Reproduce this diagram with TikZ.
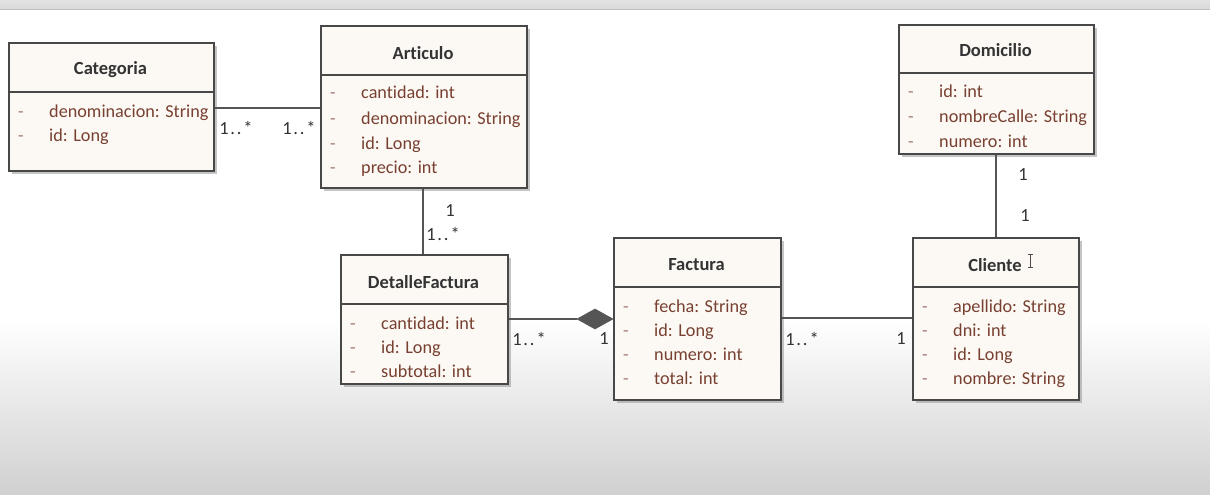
\documentclass[tikz,border=0pt]{standalone}
\usepackage{fontspec}
\setmainfont{Carlito}[Ligatures=NoCommon]
\usetikzlibrary{shadows}
\definecolor{boxfill}{RGB}{252,249,245}
\definecolor{boxdraw}{RGB}{72,72,72}
\definecolor{attrcol}{RGB}{120,64,48}
\definecolor{titlecol}{RGB}{51,51,51}
\definecolor{linecol}{RGB}{85,85,85}
\definecolor{bandcol}{RGB}{218,218,218}
\definecolor{bottomcol}{RGB}{208,208,208}
\tikzset{
  classbox/.style={draw=boxdraw, line width=2pt, fill=boxfill, inner sep=0pt, anchor=north west,
    drop shadow={shadow xshift=3pt, shadow yshift=-3pt, fill=black!45, opacity=.5}},
  sepline/.style={draw=boxdraw, line width=1.3pt},
  titletxt/.style={font=\fontsize{18.5}{22}\selectfont\bfseries, text=titlecol, inner sep=0pt},
  attrtxt/.style={font=\fontsize{18.2}{22}\selectfont, text=attrcol, inner sep=0pt, anchor=base west},
  dashtxt/.style={font=\fontsize{18.2}{22}\selectfont, text=attrcol!70, inner sep=0pt, anchor=base west},
  multtxt/.style={font=\fontsize{18.5}{22}\selectfont\addfontfeatures{LetterSpace=10}, text=titlecol, inner sep=0pt},
  assoc/.style={draw=linecol, line width=1.4pt},
  compo/.style={fill=linecol, draw=linecol, line width=0.5pt},
}
\newcommand\attrline[4]{%
  \node[dashtxt] (#1d) at (#2+10,#3+6) {-};
  \node[attrtxt] (#1) at (#2+41,#3+6) {#4};}
\begin{document}
\begin{tikzpicture}[x=1pt,y=-1pt]
\useasboundingbox (0,0) rectangle (1210,495);
% background
\fill[white] (0,0) rectangle (1210,495);
\fill[top color=white, bottom color=bottomcol] (0,320) rectangle (1210,495);
\fill[top color=bandcol!80, bottom color=bandcol] (0,0) rectangle (1210,9);
\draw[black!25, line width=0.8pt] (0,9) -- (1210,9);

% Categoria
\node[classbox, minimum width=205pt, minimum height=128pt] (cat) at (8,42) {};
\draw[sepline] (cat.west |- 0,92) -- (cat.east |- 0,92);
\node[titletxt] (catt) at (110.5,70) {Categoria};
\attrline{cata}{8}{111}{denominacion: String}
\attrline{catb}{8}{135}{id: Long}

% Articulo
\node[classbox, minimum width=206pt, minimum height=162pt] (art) at (320,25) {};
\draw[sepline] (art.west |- 0,75) -- (art.east |- 0,75);
\node[titletxt] (artt) at (423,53) {Articulo};
\attrline{arta}{320}{93}{cantidad: int}
\attrline{artb}{320}{118}{denominacion: String}
\attrline{artc}{320}{143}{id: Long}
\attrline{artd}{320}{167}{precio: int}

% Domicilio
\node[classbox, minimum width=195pt, minimum height=129pt] (dom) at (898,24) {};
\draw[sepline] (dom.west |- 0,73) -- (dom.east |- 0,73);
\node[titletxt] (domt) at (995.5,50) {Domicilio};
\attrline{doma}{898}{91}{id: int}
\attrline{domb}{898}{116}{nombreCalle: String}
\attrline{domc}{898}{141}{numero: int}

% DetalleFactura
\node[classbox, minimum width=167pt, minimum height=129pt] (det) at (340,254) {};
\draw[sepline] (det.west |- 0,304) -- (det.east |- 0,304);
\node[titletxt] (dett) at (423.5,282) {DetalleFactura};
\attrline{deta}{340}{323}{cantidad: int}
\attrline{detb}{340}{347}{id: Long}
\attrline{detc}{340}{371}{subtotal: int}

% Factura
\node[classbox, minimum width=167pt, minimum height=162pt] (fac) at (613,237) {};
\draw[sepline] (fac.west |- 0,287) -- (fac.east |- 0,287);
\node[titletxt] (fact) at (696.5,265) {Factura};
\attrline{faca}{613}{306}{fecha: String}
\attrline{facb}{613}{330}{id: Long}
\attrline{facc}{613}{354}{numero: int}
\attrline{facd}{613}{378}{total: int}

% Cliente
\node[classbox, minimum width=166pt, minimum height=162pt] (cli) at (912,237) {};
\draw[sepline] (cli.west |- 0,287) -- (cli.east |- 0,287);
\node[titletxt] (clit) at (995,265) {Cliente};
\attrline{clia}{912}{306}{apellido: String}
\attrline{clib}{912}{330}{dni: int}
\attrline{clic}{912}{354}{id: Long}
\attrline{clid}{912}{378}{nombre: String}

% cursor (I-beam)
\draw[black!70, line width=0.8pt] (1028,254) -- (1033,254) (1030.5,254) -- (1030.5,267) (1028,267) -- (1033,267);

% connectors
\draw[assoc] (cat.east |- 0,108) -- (art.west |- 0,108);
\node[multtxt] (m1) at (236,128) {1..*};
\node[multtxt] (m2) at (299,128) {1..*};

\draw[assoc] (art.south -| 423,0) -- (det.north -| 423,0);
\node[multtxt] (m3) at (450,211) {1};
\node[multtxt] (m4) at (443,234) {1..*};

\coordinate (dia) at (fac.west |- 0,319);
\draw[assoc] (det.east |- 0,319) -- ([xshift=-36pt]dia);
\fill[compo] (dia) -- ++(-18,-10) -- ++(-18,10) -- ++(18,10) -- cycle;
\node[multtxt] (m5) at (529,339) {1..*};
\node[multtxt] (m6) at (604,339) {1};

\draw[assoc] (fac.east |- 0,318) -- (cli.west |- 0,318);
\node[multtxt] (m7) at (802,339) {1..*};
\node[multtxt] (m8) at (901,339) {1};

\draw[assoc] (dom.south -| 996,0) -- (cli.north -| 996,0);
\node[multtxt] (m9) at (1023,175) {1};
\node[multtxt] (m10) at (1025,216) {1};
\end{tikzpicture}
\end{document}
